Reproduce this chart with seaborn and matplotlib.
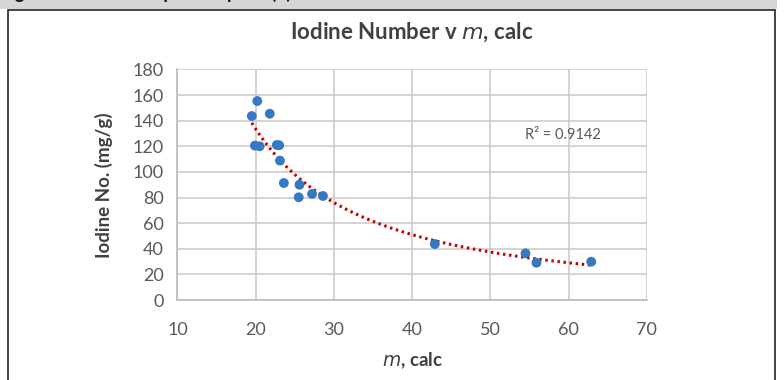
import numpy as np
import pandas as pd
import seaborn as sns
import matplotlib.pyplot as plt
from matplotlib.patches import Rectangle

# valores
m_calc = [19.5, 20.2, 21.8, 19.9, 20.5, 22.7, 23.0, 23.1, 23.6, 25.6, 25.5,
          27.2, 28.6, 42.9, 54.5, 55.9, 62.9]
iodine = [143.6, 155.3, 145.4, 120.5, 120.0, 121.0, 120.8, 108.8, 91.3, 90.0,
          80.2, 82.8, 81.2, 43.7, 36.4, 29.1, 29.9]
x_ticks = [10, 20, 30, 40, 50, 60, 70]
y_ticks = [0, 20, 40, 60, 80, 100, 120, 140, 160, 180]
r2_text = "R² = 0.9142"

df = pd.DataFrame({"m": m_calc, "iodine": iodine})

# ajuste potencial tipo Excel
b, log_a = np.polyfit(np.log(df["m"]), np.log(df["iodine"]), 1)
x_fit = np.linspace(df["m"].min(), df["m"].max(), 200)
df_fit = pd.DataFrame({"m": x_fit, "iodine": np.exp(log_a) * x_fit ** b})

sns.set_theme(style="white")
plt.rcParams["font.family"] = ["Lato", "DejaVu Sans"]

fig = plt.figure(figsize=(7.84, 3.80), dpi=100)
ax = fig.add_axes([0.2264, 0.2105, 0.5985, 0.6069])

# barra gris superior y marco negro
fig.patches.append(Rectangle((0, 0.976), 0.991, 0.03, transform=fig.transFigure,
                             facecolor="#d6d6d6", edgecolor="none", zorder=0))
fig.patches.append(Rectangle((0.0102, -0.05), 0.9783, 1.0237, transform=fig.transFigure,
                             facecolor="none", edgecolor="#222222", lw=1.2, zorder=1))
fig.text(0.0, 1.004, "Figure 5. Iodine comparison plots (b)", fontsize=13,
         fontweight="bold", color="#111111", va="baseline", ha="left")

sns.lineplot(data=df_fit, x="m", y="iodine", ax=ax, color="#c00000",
             linewidth=2.2, linestyle=(0, (0.8, 1.2)), zorder=2)
sns.scatterplot(data=df, x="m", y="iodine", ax=ax, color="#3579c4",
                s=50, edgecolor="none", zorder=3)

ax.set_xlim(10, 70)
ax.set_ylim(0, 180)
ax.set_xticks(x_ticks)
ax.set_yticks(y_ticks)
ax.grid(True, color="#cbc6c2", linewidth=1.1)
for s in ["top", "right"]:
    ax.spines[s].set_visible(False)
for s in ["left", "bottom"]:
    ax.spines[s].set_color("#bfbab6")
    ax.spines[s].set_linewidth(1.2)
ax.tick_params(axis="both", length=0, labelsize=13, labelcolor="#595959")
ax.tick_params(axis="y", pad=10)
ax.tick_params(axis="x", pad=16)

ax.set_xlabel("$\\it{m}$, calc", fontsize=13.5, fontweight="bold", color="#404040", labelpad=9)
ax.set_ylabel("Iodine No. (mg/g)", fontsize=13.5, fontweight="bold", color="#404040", labelpad=14)
ax.set_title("Iodine Number v $\\it{m}$, calc", fontsize=16, fontweight="bold",
             color="#404040", pad=22)

ax.text(59.3, 129, r2_text, fontsize=10.5, color="#595959", ha="center", va="center")

plt.savefig("out.png", dpi=100)
